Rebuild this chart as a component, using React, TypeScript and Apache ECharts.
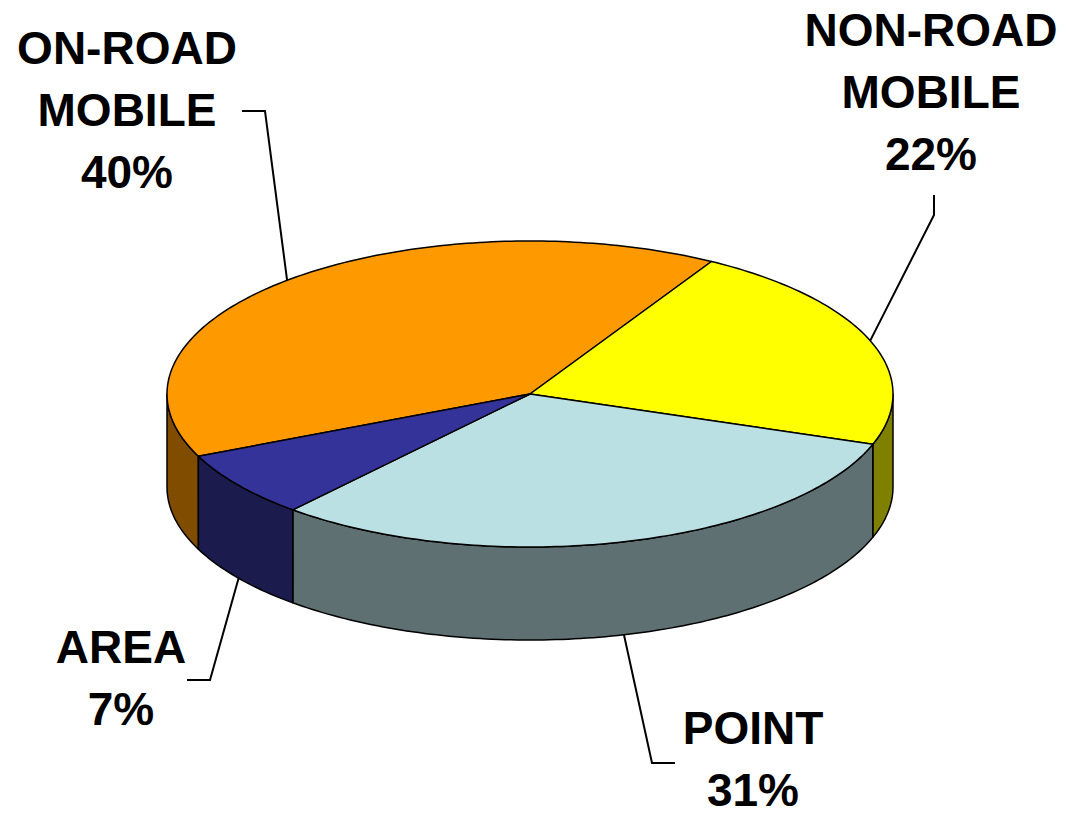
import React, { useEffect, useRef } from "react";
import * as echarts from "echarts";

// ---- data ----
const categories = ["ON-ROAD\nMOBILE", "NON-ROAD\nMOBILE", "POINT", "AREA"];
const values = [40, 22, 31, 7];

// ---- styles ----
const topColors = ["#FF9900", "#FFFF00", "#BBE0E3", "#333399"];
const sideColors = ["#7F4C00", "#808000", "#5E7072", "#1B1B4D"];

// ---- layout ----
const CX = 530;
const CY = 394;
const RX = 363;
const RY = 153;
const DEPTH = 93;
const START = 204;
const labelCenters = [
  [127, 110],
  [931, 92],
  [753, 759],
  [121, 678],
];
const leaderStarts = [
  [[242, 111], [265, 111]],
  [[934, 195], [934, 215]],
  [[675, 763], [652, 763]],
  [[187, 680], [210, 680]],
];

function pt(deg: number, dy = 0): number[] {
  const r = (deg * Math.PI) / 180;
  return [CX + RX * Math.cos(r), CY - RY * Math.sin(r) + dy];
}

function arc(a: number, b: number, dy = 0): number[][] {
  const pts: number[][] = [];
  const n = Math.max(2, Math.ceil(Math.abs(b - a) / 1));
  for (let i = 0; i <= n; i++) pts.push(pt(a + ((b - a) * i) / n, dy));
  return pts;
}

export default function App() {
  const ref = useRef<HTMLDivElement>(null);
  useEffect(() => {
    if (!ref.current) return;
    const chart = echarts.init(ref.current, undefined, { renderer: "svg" });
    const total = values.reduce((s, v) => s + v, 0);
    const renderItem = (params: any, api: any) => {
      const idx = params.dataIndex;
      const v = api.value(0);
      let cum = 0;
      for (let i = 0; i < idx; i++) cum += values[i];
      const hi = START - (cum / total) * 360;
      const lo = hi - (v / total) * 360;
      const children: any[] = [];
      // side walls (front half)
      for (let k = -2; k <= 1; k++) {
        const s = Math.max(lo, -180 + 360 * k);
        const e = Math.min(hi, 360 * k);
        if (e > s) {
          const top = arc(s, e);
          const bot = arc(s, e, DEPTH).reverse();
          children.push({
            type: "polygon",
            shape: { points: top.concat(bot) },
            style: { fill: sideColors[idx], stroke: "#000", lineWidth: 1.5, lineJoin: "round" },
          });
        }
      }
      // top face
      children.push({
        type: "polygon",
        shape: { points: [[CX, CY]].concat(arc(lo, hi)) },
        style: { fill: topColors[idx], stroke: "#000", lineWidth: 1.5, lineJoin: "round" },
      });
      // leader line
      const mid = (lo + hi) / 2;
      const sinM = Math.sin((mid * Math.PI) / 180);
      const end = pt(mid, sinM < 0 ? DEPTH : 0);
      children.push({
        type: "polyline",
        shape: { points: leaderStarts[idx].concat([end]) },
        style: { stroke: "#000", lineWidth: 2, fill: null },
      });
      // label
      children.push({
        type: "text",
        style: {
          text: categories[idx] + "\n" + v + "%",
          x: labelCenters[idx][0],
          y: labelCenters[idx][1],
          align: "center",
          verticalAlign: "middle",
          fontSize: 46,
          fontWeight: "bold",
          fontFamily: "'Liberation Sans', Arial, sans-serif",
          lineHeight: 62,
          fill: "#000",
        },
      });
      return { type: "group", children };
    };
    chart.setOption({
      animation: false,
      backgroundColor: "#fff",
      series: [
        {
          type: "custom",
          coordinateSystem: "none",
          silent: true,
          data: values,
          renderItem,
        },
      ],
    });
    return () => chart.dispose();
  }, []);
  return (
    <div
      ref={ref}
      style={{ position: "fixed", left: 0, top: 0, width: 1067, height: 815 }}
    />
  );
}
